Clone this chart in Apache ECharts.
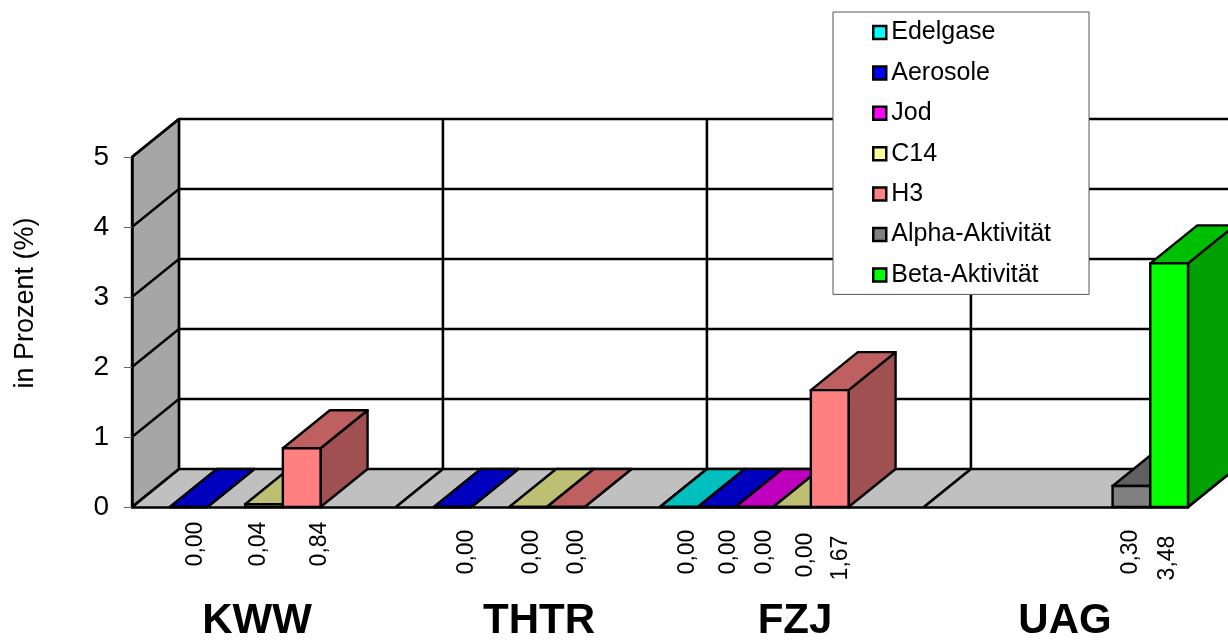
<!DOCTYPE html>
<html><head><meta charset="utf-8">
<style>html,body{margin:0;padding:0;background:#fff}#c{width:1228px;height:640px}</style>
<script src="https://cdn.jsdelivr.net/npm/echarts@6/dist/echarts.min.js"></script>
</head><body><div id="c"></div>
<script>
const categories = ['KWW','THTR','FZJ','UAG'];
const seriesNames = ['Edelgase','Aerosole','Jod','C14','H3','Alpha-Aktivität','Beta-Aktivität'];
const edelgase = [null,null,0,null];
const aerosole = [0,0,0,null];
const jod = [null,null,0,null];
const c14 = [0.04,0,0,null];
const h3 = [0.84,0,1.67,null];
const alpha = [null,null,null,0.30];
const beta = [null,null,null,3.48];
const yTicks = [0,1,2,3,4,5];
const values = [edelgase,aerosole,jod,c14,h3,alpha,beta];

// styling
const frontColors = ['#00ffff','#0000ff','#ff00ff','#ffff99','#ff8080','#808080','#00ff00'];
const topColors   = ['#00bfbf','#0000bf','#bf00bf','#bfbf73','#bf6060','#606060','#00bf00'];
const sideColors  = ['#00a0a0','#0000a0','#a000a0','#a0a060','#a05050','#505050','#00a000'];
// hand offsets of the rotated value labels from the bar centre / axis baseline: [dx, dy] per series per category
const labelOffsets = {
  '1,0':[7,37],'3,0':[-5,37],'4,0':[18,37],
  '1,1':[14,45],'3,1':[4,45],'4,1':[11,45],
  '0,2':[9,45],'1,2':[12,45],'2,2':[10,45],'3,2':[14,48],'4,2':[11,51],
  '5,3':[-1,45],'6,3':[-1,51]
};
const DX = 47, DY = -38, LW = 2.4, FONT = 'Liberation Sans';
const line = (x1,y1,x2,y2) => ({type:'line',shape:{x1,y1,x2,y2},style:{stroke:'#000',lineWidth:LW},silent:true});
const poly = (points,fill) => ({type:'polygon',shape:{points},style:{fill,stroke:'#000',lineWidth:LW,lineJoin:'round'},silent:true});

function renderFrame(params, api){
  const cat = api.value(0);
  const c = api.coord([cat,0]);
  const w = api.size([1,0])[0];
  const x0 = c[0]-w/2, x1 = c[0]+w/2, y0 = c[1];
  const yTop = api.coord([cat,yTicks[yTicks.length-1]])[1];
  const kids = [];
  kids.push({type:'polygon',shape:{points:[[x0,y0],[x1,y0],[x1+DX,y0+DY],[x0+DX,y0+DY]]},style:{fill:'#c0c0c0'},silent:true});
  kids.push({type:'rect',shape:{x:x0+DX,y:yTop+DY,width:w,height:y0-yTop},style:{fill:'#fff'},silent:true});
  if(cat===0){
    kids.push(poly([[x0,y0],[x0,yTop],[x0+DX,yTop+DY],[x0+DX,y0+DY]],'#a6a6a6'));
    yTicks.forEach(t=>{const y=api.coord([0,t])[1]; kids.push(line(x0,y,x0+DX,y+DY));});
  }
  yTicks.forEach(t=>{const y=api.coord([cat,t])[1]; kids.push(line(x0+DX,y+DY,x1+DX,y+DY));});
  kids.push(line(x0+DX,yTop+DY,x0+DX,y0+DY));
  kids.push(line(x1+DX,yTop+DY,x1+DX,y0+DY));
  if(cat>0) kids.push(line(x0,y0,x0+DX,y0+DY));
  kids.push(line(x1,y0,x1+DX,y0+DY));
  return {type:'group',children:kids};
}
function renderBar(si){
  return function(params, api){
    const cat = api.value(0), val = api.value(1);
    const base = api.coord([cat,0]), t = api.coord([cat,val]);
    const w = api.size([1,0])[0], bw = w/7;
    const x = base[0]-w/2+si*bw, y0 = base[1], y1 = t[1];
    const off = labelOffsets[si+','+cat] || [0,45];
    return {type:'group',children:[
      poly([[x+bw,y0],[x+bw+DX,y0+DY],[x+bw+DX,y1+DY],[x+bw,y1]],sideColors[si]),
      poly([[x,y1],[x+DX,y1+DY],[x+bw+DX,y1+DY],[x+bw,y1]],topColors[si]),
      {type:'rect',shape:{x,y:y1,width:bw,height:y0-y1},style:{fill:frontColors[si],stroke:'#000',lineWidth:LW},silent:true},
      {type:'text',x:x+bw/2+off[0],y:y0+off[1],rotation:Math.PI/2,
       style:{text:val.toFixed(2).replace('.',','),fontFamily:FONT,fontSize:23,fill:'#000',align:'center',verticalAlign:'middle'},silent:true}
    ]};
  };
}
const series = [{
  type:'custom',name:'frame',coordinateSystem:'cartesian2d',z:1,clip:false,silent:true,
  data:categories.map((_,i)=>[i,0]),encode:{x:0,y:1},renderItem:renderFrame
}];
seriesNames.forEach((name,si)=>{
  series.push({type:'custom',name,coordinateSystem:'cartesian2d',z:2,clip:false,silent:true,
    itemStyle:{color:frontColors[si],borderColor:'#000',borderWidth:2.5},
    data:values[si].map((v,i)=>[i,v]).filter(d=>d[1]!==null),
    encode:{x:0,y:1},renderItem:renderBar(si)});
});
const chart = echarts.init(document.getElementById('c'),null,{renderer:'canvas'});
chart.setOption({
  animation:false,
  backgroundColor:'#fff',
  textStyle:{fontFamily:FONT},
  grid:{left:132,top:157,width:1056,height:350,outerBoundsMode:'none'},
  legend:{
    data:seriesNames.map(n=>({name:n,icon:'rect'})),orient:'vertical',left:833,top:12,z:20,
    backgroundColor:'#fff',borderColor:'#555',borderWidth:1,
    padding:[8,38,7,39],itemWidth:13,itemHeight:13,itemGap:15.4,selectedMode:false,align:'left',
    itemStyle:{borderColor:'#000',borderWidth:2.5},
    textStyle:{fontFamily:FONT,fontSize:25,color:'#000'}
  },
  xAxis:{type:'category',data:[
      {value:'KWW',textStyle:{padding:[0,14,0,0]}},
      {value:'THTR',textStyle:{padding:[0,0,0,22]}},
      {value:'FZJ',textStyle:{padding:[0,0,0,6]}},
      {value:'UAG',textStyle:{padding:[0,0,0,18]}}],
    z:10,
    axisLine:{show:true,lineStyle:{color:'#000',width:2.5}},axisTick:{show:false},splitLine:{show:false},
    axisLabel:{show:true,margin:93,fontFamily:FONT,fontSize:42,fontWeight:'bold',color:'#000',interval:0}},
  yAxis:{type:'value',min:0,max:5,interval:1,z:10,name:'in Prozent (%)',nameLocation:'middle',nameGap:93,nameRotate:90,
    nameTextStyle:{fontFamily:FONT,fontSize:27,color:'#000',padding:[0,0,0,58]},
    axisLine:{show:true,lineStyle:{color:'#000',width:2.5}},
    axisTick:{show:true,length:8,lineStyle:{color:'#666',width:1}},
    splitLine:{show:false},
    axisLabel:{margin:23,fontFamily:FONT,fontSize:28,color:'#000'}},
  series
});
</script></body></html>
